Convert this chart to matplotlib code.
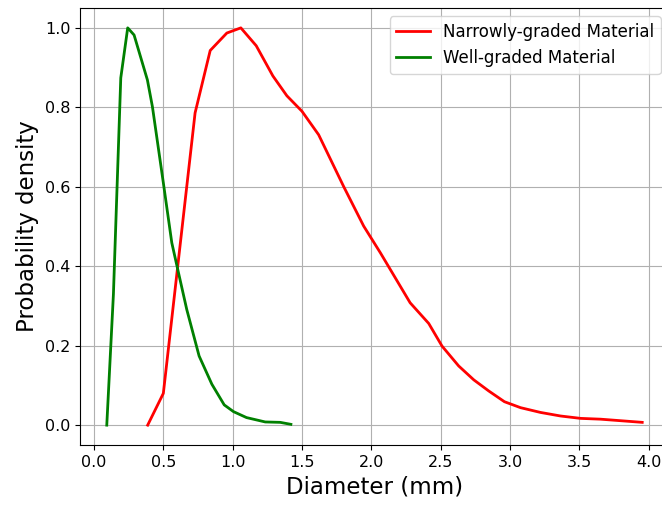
import matplotlib
matplotlib.use("Agg")
import matplotlib.pyplot as plt

# narrowly-graded material (red)
d_narrow = [0.387, 0.50, 0.729, 0.838, 0.958, 1.059, 1.17, 1.29, 1.391, 1.50,
            1.62, 1.80, 1.945, 2.065, 2.28, 2.414, 2.51, 2.63, 2.739, 2.847,
            2.96, 3.076, 3.22, 3.365, 3.51, 3.653, 3.954]
p_narrow = [0.0, 0.08, 0.786, 0.943, 0.987, 1.0, 0.955, 0.879, 0.829, 0.79,
            0.731, 0.601, 0.501, 0.434, 0.308, 0.256, 0.199, 0.149, 0.114, 0.086,
            0.059, 0.044, 0.032, 0.023, 0.017, 0.015, 0.007]

# well-graded material (green)
d_well = [0.092, 0.14, 0.193, 0.243, 0.289, 0.385, 0.421, 0.50, 0.561, 0.609,
          0.669, 0.758, 0.85, 0.939, 1.006, 1.10, 1.235, 1.343, 1.42]
p_well = [0.0, 0.33, 0.874, 1.0, 0.982, 0.869, 0.802, 0.61, 0.459, 0.384,
          0.291, 0.174, 0.103, 0.051, 0.034, 0.019, 0.008, 0.007, 0.002]

fig = plt.figure(figsize=(6.62, 5.05), dpi=100)
ax = fig.add_axes([80/662, 60/505, 589/662, 437/505])

ax.plot(d_narrow, p_narrow, color='red', lw=2, label='Narrowly-graded Material')
ax.plot(d_well, p_well, color='green', lw=2, label='Well-graded Material')

ax.set_xlabel('Diameter (mm)', fontsize=16.5)
ax.set_ylabel('Probability density', fontsize=16.5)
ax.tick_params(labelsize=11.5)
ax.grid(True)
ax.legend(loc='upper right', fontsize=12)

fig.savefig('out.png', dpi=100)
